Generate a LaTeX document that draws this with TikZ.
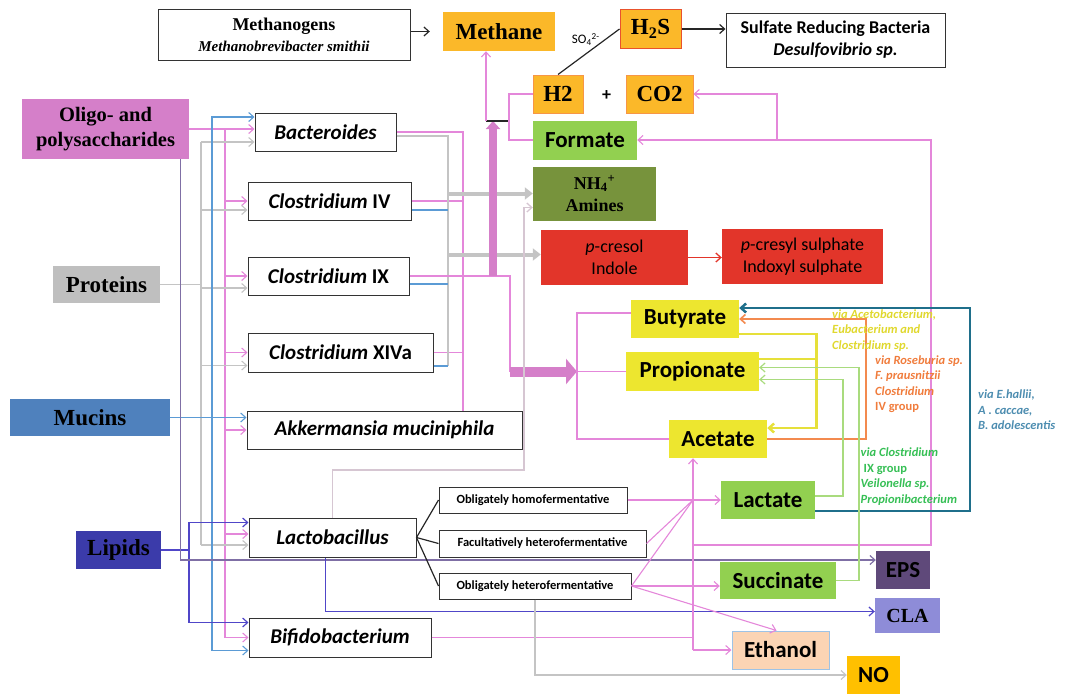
\documentclass[tikz,border=0pt]{standalone}
\usepackage{fontspec}
\setmainfont{Carlito}
\newfontfamily\tnr{Liberation Serif}
\usetikzlibrary{arrows.meta}

\definecolor{cOligo}{HTML}{D57FC9}
\definecolor{cProt}{HTML}{BFBFBF}
\definecolor{cMuc}{HTML}{4F81BD}
\definecolor{cLip}{HTML}{3B3BAA}
\definecolor{cGold}{HTML}{FBB829}
\definecolor{cOrgB}{HTML}{F79646}
\definecolor{cRedB}{HTML}{E9522C}
\definecolor{cGrn}{HTML}{92D050}
\definecolor{cOlive}{HTML}{77933C}
\definecolor{cRed}{HTML}{E2352A}
\definecolor{cYel}{HTML}{EDE62F}
\definecolor{cPeach}{HTML}{FBD4B4}
\definecolor{cEthB}{HTML}{9DC3E6}
\definecolor{cEps}{HTML}{5F497A}
\definecolor{cCla}{HTML}{8E8CD8}
\definecolor{cNo}{HTML}{FFC000}
% line colours
\definecolor{lPink}{HTML}{E487DA}
\definecolor{lGray}{HTML}{C4C4C4}
\definecolor{lBlue}{HTML}{5B9BD5}
\definecolor{lLip}{HTML}{5046C8}
\definecolor{lEps}{HTML}{7F6FA5}
\definecolor{lMauve}{HTML}{D6C6D2}
\definecolor{lTeal}{HTML}{1F6F8B}
\definecolor{lOrg}{HTML}{F38A4F}
\definecolor{lYel}{HTML}{E6E03A}
\definecolor{lGrn}{HTML}{A9DB7E}
% text colours
\definecolor{tYel}{HTML}{E0D82E}
\definecolor{tOrg}{HTML}{F07C3C}
\definecolor{tTeal}{HTML}{4D8DB0}
\definecolor{tGrn}{HTML}{36BF55}

\newcommand{\fsize}[2]{\fontsize{#1}{#2}\selectfont}

\begin{document}
\begin{tikzpicture}[x=1pt,y=-1pt,>={Straight Barb[length=5pt,width=9pt]}]
	\tikzset{sz/.style 2 args={minimum width=#1pt,minimum height=#2pt}}
	\tikzstyle{every node}=[inner sep=0pt]
	\tikzstyle{bug}=[draw=black!80, line width=1pt, fill=white, align=center, font=\bfseries\fsize{21}{24}]
	\tikzstyle{ferm}=[draw=black!80, line width=1pt, fill=white, font=\bfseries\fsize{12.5}{14}]
	\tikzstyle{src}=[align=center, font=\tnr\bfseries\fsize{23}{26}]
	\tikzstyle{prod}=[align=center, font=\bfseries\fsize{23}{26}]
	\tikzstyle{via}=[anchor=west, align=left, font=\bfseries\itshape\fsize{12.5}{15.5}]
	\tikzstyle{bkln}=[draw=black!85, line width=1.2pt]
	\tikzstyle{pkln}=[draw=lPink, line width=1.1pt]
	\tikzstyle{gyln}=[draw=lGray, line width=1.1pt]
	\tikzstyle{blln}=[draw=lBlue, line width=1.1pt]
	\tikzstyle{lpln}=[draw=lLip, line width=1.2pt]
	\tikzstyle{epln}=[draw=lEps, line width=1.2pt]
	\tikzstyle{mvln}=[draw=lMauve, line width=1.3pt]
	\tikzstyle{tlln}=[draw=lTeal, line width=2.5pt]
	\tikzstyle{orln}=[draw=lOrg, line width=1.6pt]
	\tikzstyle{ylln}=[draw=lYel, line width=2.5pt]
	\tikzstyle{grln}=[draw=lGrn, line width=1.2pt]

	\useasboundingbox (0,0) rectangle (1067,694);

	% substrates
	\node[src, fill=cOligo, sz={167}{60}, font=\tnr\bfseries\fsize{20.5}{25}] (oligo) at (105.5,129) {Oligo- and\\polysaccharides};
	\node[src, fill=cProt, sz={107}{37}] (proteins) at (106.5,284.5) {Proteins};
	\node[src, fill=cMuc, sz={160}{37}] (mucins) at (90,417.5) {Mucins};
	\node[src, fill=cLip, sz={85}{38}] (lipids) at (118.5,550) {Lipids};

	% bacteria
	\node[bug, sz={141}{38}] (bact) at (325.5,132) {\itshape Bacteroides};
	\node[bug, sz={163}{38}] (clIV) at (329.5,201) {\textit{Clostridium} IV};
	\node[bug, sz={161}{38}] (clIX) at (328.5,276) {\textit{Clostridium} IX};
	\node[bug, sz={185}{39}] (clXIV) at (340.5,352.5) {\textit{Clostridium} XIVa};
	\node[bug, sz={275}{38}] (akk) at (384.5,430) {\itshape Akkermansia muciniphila};
	\node[bug, sz={167}{39}] (lacto) at (332.5,537.5) {\itshape Lactobacillus};
	\node[bug, sz={182}{39}] (bifido) at (340,637.5) {\itshape Bifidobacterium};

	\node[ferm, sz={188}{26}] (homo) at (533,500) {Obligately homofermentative};
	\node[ferm, sz={207}{27}] (facult) at (542.5,543.5) {Facultatively heterofermentative};
	\node[ferm, sz={192}{26}] (hetero) at (535,586) {Obligately heterofermentative};

	% top row
	\node[bug, sz={252}{51}, font=\tnr\bfseries\fsize{18}{21}] (mgen) at (284,34.5) {Methanogens\\{\itshape\fsize{15}{21}Methanobrevibacter smithii}};
	\node[src, fill=cGold, sz={112}{39}] (methane) at (499,31.5) {Methane};
	\node[src, fill=cGold, draw=cRedB, line width=1pt, sz={61}{39}] (h2s) at (650.5,29) {H\textsubscript{2}S};
	\node[bug, sz={219}{54}, font=\bfseries\fsize{18}{22}] (srb) at (835.5,40) {Sulfate Reducing Bacteria\\\itshape Desulfovibrio sp.};
	\node[src, fill=cGold, draw=cOrgB, line width=1pt, sz={50}{38}] (h2) at (558,94) {H2};
	\node[font=\bfseries\fsize{18}{20}] (plus) at (606.5,96) {+};
	\node[src, fill=cGold, draw=cOrgB, line width=1pt, sz={67}{38}] (co2) at (659.5,94) {CO2};
	\node[prod, fill=cGrn, sz={104}{39}] (formate) at (585,140) {Formate};
	\node[src, fill=cOlive, sz={123}{54}, font=\tnr\bfseries\fsize{18}{22}] (nh4) at (594.5,193.5) {NH\textsubscript{4}\textsuperscript{+}\\Amines};
	\node[prod, fill=cRed, sz={147}{55}, font=\fsize{18}{22}] (pcresol) at (614.5,257.5) {\textit{p}-cresol\\Indole};
	\node[prod, fill=cRed, sz={161}{55}, font=\fsize{18}{22}] (pcresyl) at (802.5,256.5) {\textit{p}-cresyl sulphate\\Indoxyl sulphate};

	% products
	\node[prod, fill=cYel, sz={108}{38}] (butyrate) at (685,319) {Butyrate};
	\node[prod, fill=cYel, sz={133}{39}] (propionate) at (692.5,371.5) {Propionate};
	\node[prod, fill=cYel, sz={98}{38}] (acetate) at (718,439) {Acetate};
	\node[prod, fill=cGrn, sz={94}{38}] (lactate) at (768,500) {Lactate};
	\node[prod, fill=cGrn, sz={116}{37}] (succinate) at (778,580.5) {Succinate};
	\node[prod, fill=cPeach, draw=cEthB, line width=1pt, sz={97}{38}] (ethanol) at (780.5,650) {Ethanol};
	\node[prod, fill=cEps, sz={54}{38}] (eps) at (903,570) {EPS};
	\node[src, fill=cCla, sz={65}{35}, font=\tnr\bfseries\fsize{20}{22}] (cla) at (907.5,615.5) {CLA};
	\node[prod, fill=cNo, sz={53}{38}] (no) at (873.5,675) {NO};

	% bus points
	\coordinate (busL) at (189,550);
	\coordinate (busG) at (201,142);
	\coordinate (busB) at (212,417.5);
	\coordinate (busP) at (225,129);
	\coordinate (busN) at (448,136);
	\coordinate (busR) at (463,132);
	\coordinate (fermin) at (510,371.5);
	\coordinate (brkt) at (577,371.5);
	\coordinate (hub) at (493,121);
	\coordinate (hubL) at (486,121);
	\coordinate (hubR) at (509,121);
	\coordinate (lnk) at (524,470);
	\coordinate (jn) at (693,500);
	\coordinate (vb) at (693,650);
	\coordinate (rb) at (931,545);
	\coordinate (cb) at (777,140);
	\coordinate (yc) at (816.5,380);
	\coordinate (gc1) at (843,440);
	\coordinate (gc2) at (859,470);
	\coordinate (oc) at (866,380);
	\coordinate (tc) at (970,400);

	% substrates -> bacteria
	\draw[pkln,->] (oligo) -- (oligo -| bact.west);
	\draw[pkln] (busP) -- (busP |- bifido.west);
	\foreach \b/\d in {clIV/0,clIX/0,clXIV/0,akk/0,lacto/3.5,bifido/0}
		\draw[pkln,->] ([yshift=\d pt]busP |- \b.west) -- ([yshift=\d pt]\b.west);
	\draw[gyln] (proteins) -- (proteins -| busG);
	\draw[gyln] ([yshift=-10pt]busG |- bact.west) -- ([yshift=-7.5pt]busG |- lacto.west);
	\foreach \b/\d in {bact/-10,clIV/-9,clIX/-12,clXIV/-13,lacto/-7.5}
		\draw[gyln,->] ([yshift=\d pt]busG |- \b.west) -- ([yshift=\d pt]\b.west);
	\draw[blln,->] (mucins) -- (mucins -| akk.west);
	\draw[blln,->] (busB) |- ([yshift=15pt]bact.west);
	\draw[blln,->] (busB) |- ([yshift=-13pt]bifido.west);
	\draw[lpln] (lipids) -- (busL);
	\draw[lpln,->] (busL) |- ([yshift=15pt]lacto.west);
	\draw[lpln,->] (busL) |- ([yshift=15pt]bifido.west);
	\draw[epln,->] ([xshift=-9pt]oligo.south east) |- ([yshift=10pt]eps.west);

	% bacteria -> products
	\draw[pkln] (bact.east) -| (busR |- akk.north);
	\draw[pkln] (clIV.east) -- (clIV.east -| busR);
	\draw[pkln] (clXIV.east) -- (clXIV.east -| busR);
	\draw[gyln] ([yshift=-4pt]bact.east) -| ([yshift=-13.5pt]busN |- clXIV.east);
	\foreach \b/\d in {clIV/-9,clIX/-8,clXIV/-13.5}
		\draw[blln] ([yshift=\d pt]\b.east) -- ([yshift=\d pt]busN |- \b.east);
	\draw[draw=lGray, line width=4pt, -{Triangle[length=8pt,width=12pt]}] (busN |- nh4.west) -- (nh4.west);
	\draw[draw=lGray, line width=4pt, -{Triangle[length=8pt,width=12pt]}] ([yshift=3pt]busN |- pcresol.west) -- ([yshift=3pt]pcresol.west);
	\draw[pkln] (clIX.east) -| (fermin);
	\draw[draw=cOligo, line width=10pt, -{Triangle[length=11pt,width=25pt]}] (fermin) -- (brkt);
	\draw[draw=cOligo, line width=8pt, -{Triangle[length=8pt,width=14pt]}] (hub |- clIX.east) -- (hub);
	\draw[bkln] (hubL) -- (hubR);
	\draw[pkln,->] (hubL) -- (hubL |- methane.south);
	\draw[pkln] (h2.west) -| (hubR) |- (formate.west);
	\draw[pkln] ([yshift=6pt]butyrate.west) -| (brkt) |- (acetate.west);
	\draw[pkln] (brkt) -- (propionate.west);

	\draw[bkln,->,shorten >=13pt] (mgen.east |- methane.west) -- (methane.west);
	\draw[bkln] (h2.north) -- node[xshift=-3pt, yshift=12pt, font=\fsize{13}{13}] (so4) {SO\textsubscript{4}\textsuperscript{2-}} (h2s.west);
	\draw[bkln,->] (h2s) -- (h2s -| srb.west);
	\draw[draw=cRed, line width=1.3pt, ->] (pcresol) -- (pcresol -| pcresyl.west);

	% Lactobacillus
	\draw[mvln,->] (lacto.north) |- (lnk) |- ([yshift=-14pt]nh4.west);
	\draw[lpln,->] ([xshift=-7pt]lacto.south) |- ([yshift=4pt]cla.west);
	\foreach \f in {homo,facult,hetero}
		\draw[bkln] (lacto.east) -- (\f.west);
	\draw[pkln,->] (homo) -- (lactate);
	\draw[pkln] (facult.east) -- (jn);
	\draw[pkln] (hetero.east) -- (jn);
	\draw[pkln,->] (hetero) -- (hetero -| succinate.west);
	\draw[pkln,->] (hetero.east) -- ([xshift=-4pt]ethanol.north);
	\draw[pkln,->] (vb) -- (vb |- acetate.south);
	\draw[pkln,->] (vb) -- (vb -| ethanol.west);
	\draw[pkln] (bifido) -- (bifido -| vb);
	\draw[pkln,->] (vb |- rb) -- (rb) |- (formate.east);
	\draw[pkln,->] (cb) |- (co2.east);
	\draw[gyln,->] (hetero.south) |- (no.west);

	% cross-feeding
	\draw[tlln,->] ([yshift=-11pt]lactate.east) -| (tc) |- ([yshift=11pt]butyrate.east);
	\draw[orln,->] (acetate.east) -| (oc) |- (butyrate.east);
	\draw[ylln,->] ([yshift=-15pt]butyrate.east) -| (yc) |- ([yshift=11pt]acetate.east);
	\draw[ylln] ([yshift=12.5pt]propionate.east) -- ([yshift=12.5pt]yc |- propionate.east);
	\draw[grln,->] ([yshift=4pt]lactate.east) -| (gc1) |- ([yshift=-8pt]propionate.east);
	\draw[grln,->] (succinate.east) -| (gc2) |- ([yshift=4pt]propionate.east);

	\node[via, text=tYel] (viaYel) at (832,330.5) {via Acetobacterium,\\Eubacterium and\\Clostridium sp.};
	\node[via, text=tOrg] (viaOrg) at (875,384) {via Roseburia sp.\\F. prausnitzii\\Clostridium\\\upshape IV group};
	\node[via, text=tTeal] (viaTeal) at (978,410) {via E.hallii,\\A . caccae,\\B. adolescentis};
	\node[via, text=tGrn] (viaGrn) at (860.5,476.5) {via Clostridium\\\hspace{3pt}\upshape IX group\\Veilonella sp.\\Propionibacterium};
\end{tikzpicture}
\end{document}
